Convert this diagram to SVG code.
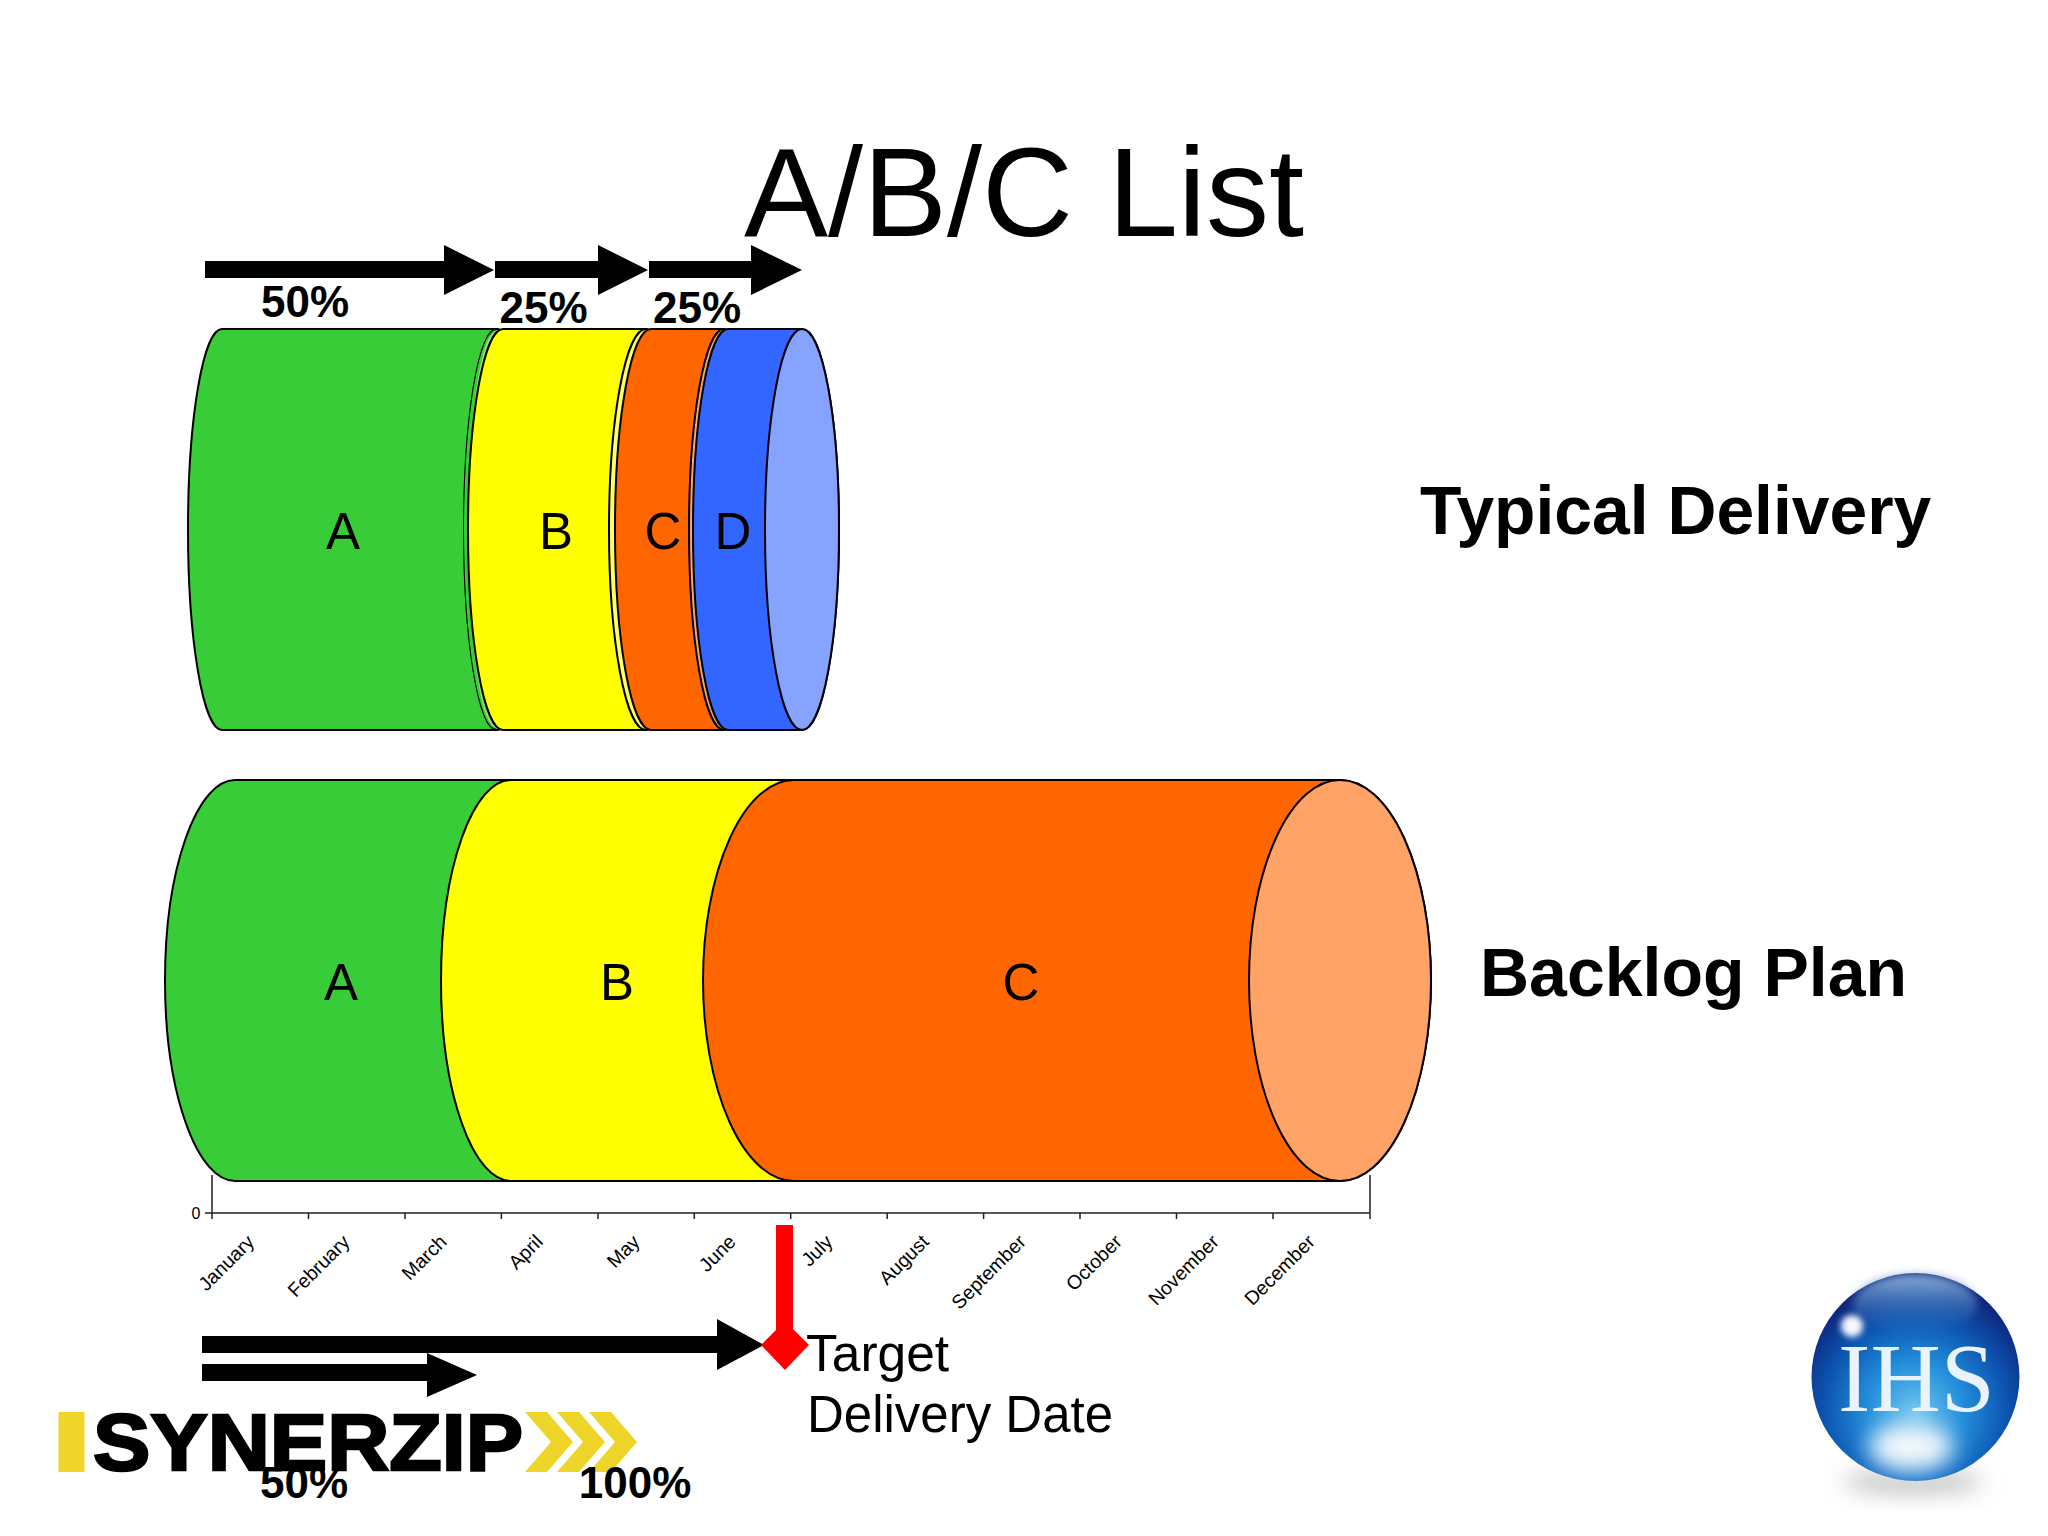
<svg xmlns="http://www.w3.org/2000/svg" width="2048" height="1536" viewBox="0 0 2048 1536">
<defs>
<style>
text{font-family:"Liberation Sans",Arial,sans-serif;fill:#000}
.b{font-weight:bold}
.pct{font-size:44px;font-weight:bold;text-anchor:middle}
.seg{font-size:51px;text-anchor:middle}
.mon{font-size:19.500px;text-anchor:end}
.cyl{stroke:#000;stroke-width:2;stroke-linejoin:round}
.g{fill:#38cc38}.y{fill:#ffff00}.o{fill:#ff6600}.bl{fill:#3366ff}
.ax{stroke:#222;stroke-width:1.5;fill:none}
.chev{fill:#efd52a}
</style>
<radialGradient id="sph" cx="50%" cy="66%" r="64%">
<stop offset="0" stop-color="#6cc4ee"/><stop offset="0.35" stop-color="#2490dc"/><stop offset="0.68" stop-color="#0c56b2"/><stop offset="1" stop-color="#0e1f74"/>
</radialGradient>
<linearGradient id="hl" x1="0" y1="0" x2="0" y2="1">
<stop offset="0" stop-color="#8fb4de"/><stop offset="1" stop-color="#2f74c4" stop-opacity="0"/>
</linearGradient>
<filter id="b12" x="-60%" y="-60%" width="220%" height="220%"><feGaussianBlur stdDeviation="11"/></filter>
<filter id="b4" x="-60%" y="-60%" width="220%" height="220%"><feGaussianBlur stdDeviation="4"/></filter>
<filter id="b3" x="-60%" y="-60%" width="220%" height="220%"><feGaussianBlur stdDeviation="3"/></filter>
</defs>
<rect width="2048" height="1536" fill="#fff"/>
<text id="title" x="1024" y="236" font-size="126" text-anchor="middle">A/B/C List</text>

<g id="typical-delivery">
<g id="typical-a"><path class="cyl g" d="M222 329A34 200.500 0 0 0 222 730L497 730A33 200.500 0 0 0 497 329Z"/><ellipse class="cyl" fill="#86e086" cx="497" cy="529.500" rx="33" ry="200.500"/><path class="g" d="M497 329A33 200.500 0 0 0 497 730A29 200.500 0 0 1 497 329Z" stroke="none"/></g>
<g id="typical-b"><path class="cyl y" d="M503 329A35 200.500 0 0 0 503 730L646 730A37 200.500 0 0 0 646 329Z"/><ellipse class="cyl" fill="#ffff66" cx="646" cy="529.500" rx="37" ry="200.500"/></g>
<g id="typical-c"><path class="cyl o" d="M651 329A36 200.500 0 0 0 651 730L724 730A35 200.500 0 0 0 724 329Z"/><ellipse class="cyl" fill="#ffa366" cx="724" cy="529.500" rx="35" ry="200.500"/></g>
<g id="typical-d"><path class="cyl bl" d="M728 329A35 200.500 0 0 0 728 730L802 730A37 200.500 0 0 0 802 329Z"/><ellipse class="cyl" fill="#85a3ff" cx="802" cy="529.500" rx="37" ry="200.500"/></g>
<text class="seg" x="343" y="549">A</text><text class="seg" x="556" y="549">B</text><text class="seg" x="663" y="549">C</text><text class="seg" x="733" y="549">D</text>
</g>

<g id="axis">
<path class="ax" d="M212 1175V1219M1370 1175V1219M205 1213H1370M308.500 1213v6M405 1213v6M501.400 1213v6M598 1213v6M694.300 1213v6M790.700 1213v6M887.200 1213v6M983.600 1213v6M1080 1213v6M1176.500 1213v6M1273 1213v6"/>
<text x="196" y="1219" font-size="16" text-anchor="middle">0</text>
<g class="months">
<text class="mon" transform="translate(255.500 1243) rotate(-45)">January</text>
<text class="mon" transform="translate(351 1243) rotate(-45)">February</text>
<text class="mon" transform="translate(448 1243) rotate(-45)">March</text>
<text class="mon" transform="translate(544 1243) rotate(-45)">April</text>
<text class="mon" transform="translate(641 1243) rotate(-45)">May</text>
<text class="mon" transform="translate(737 1243) rotate(-45)">June</text>
<text class="mon" transform="translate(834 1243) rotate(-45)">July</text>
<text class="mon" transform="translate(930 1243) rotate(-45)">August</text>
<text class="mon" transform="translate(1027 1243) rotate(-45)">September</text>
<text class="mon" transform="translate(1123 1243) rotate(-45)">October</text>
<text class="mon" transform="translate(1220 1243) rotate(-45)">November</text>
<text class="mon" transform="translate(1316 1243) rotate(-45)">December</text>
</g>
</g>

<g id="backlog-plan">
<g id="backlog-a"><path class="cyl g" d="M235 780A70 200.500 0 0 0 235 1181L520 1181V780Z"/></g>
<g id="backlog-b"><path class="cyl y" d="M511 780A70 200.500 0 0 0 511 1181L805 1181V780Z"/></g>
<g id="backlog-c"><path class="cyl o" d="M794 780A91 200.500 0 0 0 794 1181L1340 1181A91 200.500 0 0 0 1340 780Z"/><ellipse class="cyl" fill="#ffa366" cx="1340" cy="980.500" rx="91" ry="200.500"/></g>
<text class="seg" x="341" y="1000">A</text><text class="seg" x="617" y="1000">B</text><text class="seg" x="1021" y="1000">C</text>
</g>

<g id="connectors">
<polygon points="205,261 444,261 444,245 494,270 444,295 444,278 205,278"/>
<polygon points="495,261 598,261 598,245 648,270 598,295 598,278 495,278"/>
<polygon points="649,261 751,261 751,245 802,270 751,295 751,278 649,278"/>
<polygon points="202,1336 717,1336 717,1319 764,1345 717,1370 717,1353 202,1353"/>
<polygon points="202,1364 427,1364 427,1353 477,1375 427,1397 427,1381 202,1381"/>
<rect x="776" y="1225" width="17" height="106" fill="#ff0000"/>
</g>

<g id="target-date"><polygon points="785,1321 809,1345 785,1370 761,1345" fill="#ff0000"/>
<text x="806" y="1371" font-size="51.500">Target</text>
<text x="807" y="1432" font-size="51">Delivery Date</text>
</g>

<g id="labels">
<text class="pct" x="305" y="317">50%</text>
<text class="pct" x="543.500" y="323">25%</text>
<text class="pct" x="697" y="323">25%</text>
<text x="1420" y="534" font-size="67.800" class="b">Typical Delivery</text>
<text x="1480" y="996" font-size="68" class="b">Backlog Plan</text>
</g>

<g id="synerzip-logo">
<rect class="chev" x="58.500" y="1412" width="26" height="60"/>
<polygon class="chev" points="525,1412 547,1412 573,1442 547,1472 525,1472 551,1442"/>
<polygon class="chev" points="557,1412 579,1412 605,1442 579,1472 557,1472 583,1442"/>
<polygon class="chev" points="589,1412 611,1412 637,1442 611,1472 589,1472 615,1442"/>
<text x="93" y="1470" font-size="80" class="b" stroke="#000" stroke-width="2.500" textLength="430" lengthAdjust="spacingAndGlyphs">SYNERZIP</text>
</g>
<text class="pct" x="304" y="1498">50%</text>
<text class="pct" x="635" y="1498">100%</text>

<g id="ihs-logo">
<ellipse cx="1913" cy="1482" rx="70" ry="12" fill="#c4c4c4" filter="url(#b12)"/>
<circle cx="1915.500" cy="1377" r="104" fill="url(#sph)"/>
<ellipse cx="1911" cy="1447" rx="42" ry="24" fill="#f2f7fb" filter="url(#b12)"/>
<ellipse cx="1915" cy="1304" rx="62" ry="30" fill="url(#hl)" filter="url(#b4)"/>
<circle cx="1852" cy="1326" r="11" fill="#f4f8ff" filter="url(#b3)"/>
<text x="1838" y="1411" font-size="98" textLength="157" lengthAdjust="spacingAndGlyphs" style="font-family:'Liberation Serif',serif;fill:#e8f3fb">IHS</text>
</g>
</svg>
